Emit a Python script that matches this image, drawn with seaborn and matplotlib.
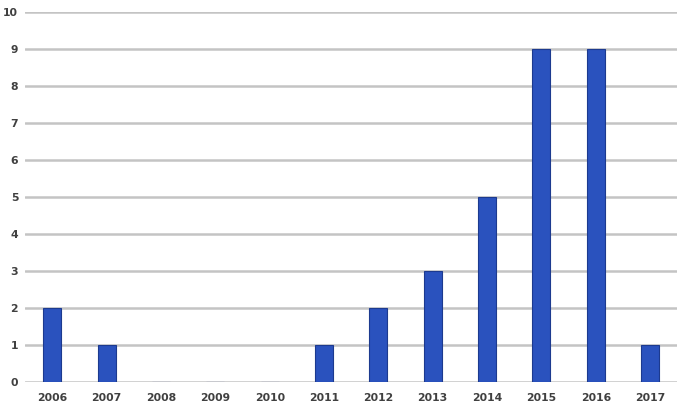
import numpy as np
import pandas as pd
import matplotlib
matplotlib.use("Agg")
import matplotlib.pyplot as plt
import seaborn as sns

years = ["2006", "2007", "2008", "2009", "2010", "2011", "2012",
         "2013", "2014", "2015", "2016", "2017"]
counts = [2, 1, 0, 0, 0, 1, 2, 3, 5, 9, 9, 1]
y_ticks = list(range(0, 11))

df = pd.DataFrame({"year": years, "count": counts})

sns.set_style("white")
plt.rcParams['font.family'] = ['DejaVu Sans']

fig = plt.figure(figsize=(6.8, 4.12), dpi=100)
ax = fig.add_axes([0.037, 0.073, 0.959, 0.899])

sns.barplot(x="year", y="count", data=df, color="#2a52be", saturation=1,
            width=0.33, edgecolor="#1c3a8f", linewidth=0.8, ax=ax, zorder=3)

ax.set_ylim(0, 10)
ax.set_xlim(-0.5, 11.5)
ax.set_yticks(y_ticks)
ax.yaxis.grid(True, color="#c4c4c4", linewidth=1.8, zorder=0)
ax.set_axisbelow(True)
for s in ax.spines.values():
    s.set_visible(False)
ax.set_xlabel("")
ax.set_ylabel("")
ax.tick_params(axis="both", length=0, labelsize=7.8, labelcolor="#404040")
ax.tick_params(axis="x", pad=8)
ax.tick_params(axis="y", pad=5)
for lbl in ax.get_xticklabels() + ax.get_yticklabels():
    lbl.set_fontweight("bold")

plt.savefig("out.png", dpi=100)
